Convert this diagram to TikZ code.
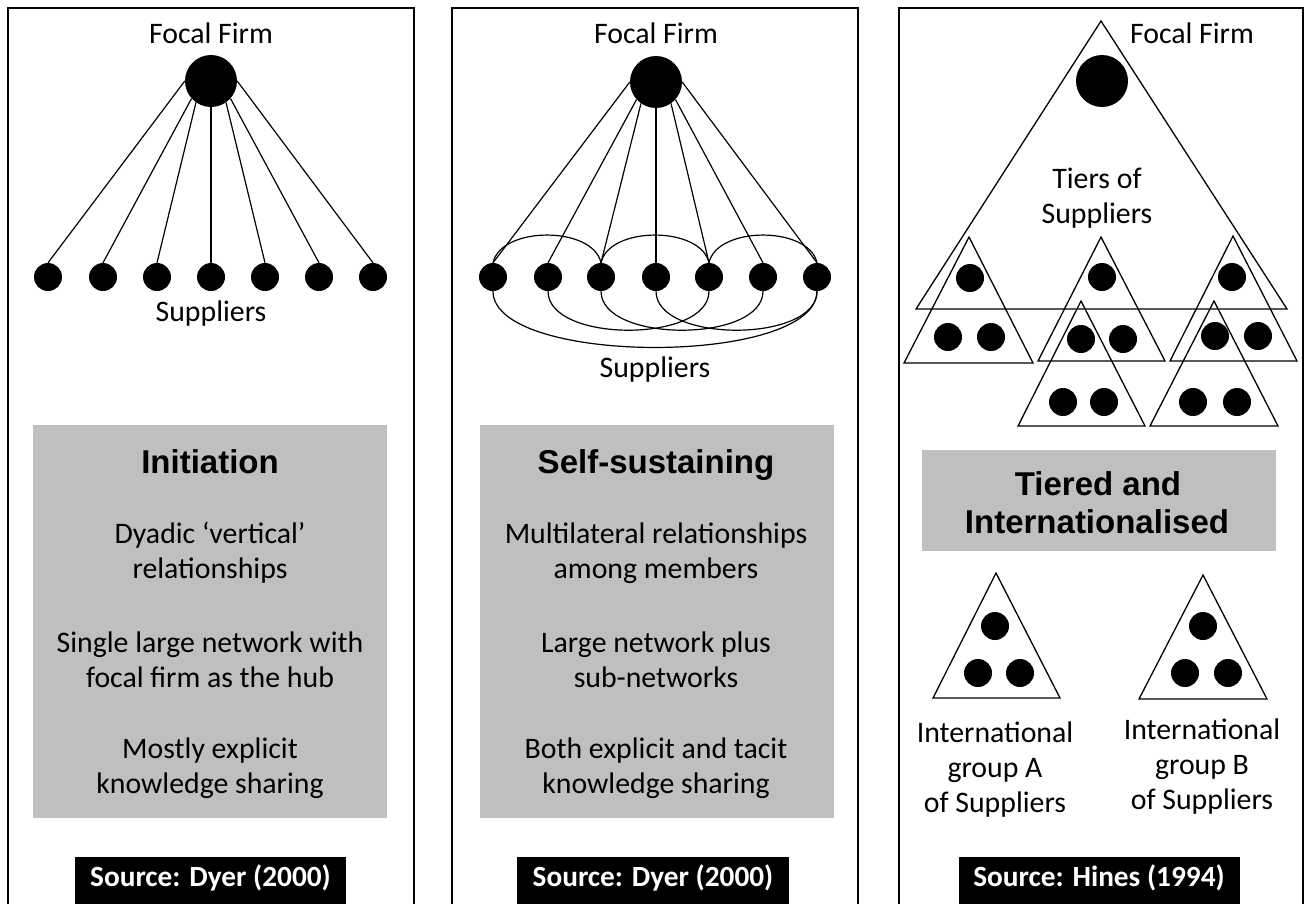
\documentclass[tikz,border=0pt]{standalone}
\usepackage{fontspec}
\setmainfont{Carlito}
\newfontfamily\headfont{Liberation Sans}
\definecolor{boxgrey}{RGB}{191,191,191}

\begin{document}
\begin{tikzpicture}[x=1pt,y=-1pt,
  frame/.style={line width=2.6pt},
  hub/.style={circle,fill=black,inner sep=0pt,minimum size=52pt},
  dot/.style={circle,fill=black,inner sep=0pt,minimum size=28pt},
  link/.style={line width=1.2pt},
  tier/.style={line width=1.3pt},
  shade/.style={fill=boxgrey},
  srcbox/.style={fill=black},
  lbl/.style={font=\fontsize{29.8}{35}\selectfont,anchor=base,inner sep=0pt},
  head/.style={font=\headfont\bfseries\fontsize{33}{40}\selectfont,anchor=base,inner sep=0pt},
  src/.style={font=\bfseries\fontsize{29.3}{35}\selectfont,text=white,anchor=base,inner sep=0pt}]
\useasboundingbox (0,0) rectangle (1306,903);

% panel frames (open at the bottom edge)
\draw[frame] (8,910) -- (8,8) -- (414,8) -- (414,910);
\draw[frame] (452,910) -- (452,8) -- (858,8) -- (858,910);
\draw[frame] (899,910) -- (899,8) -- (1303,8) -- (1303,910);

% ---------- Initiation ----------
\node[lbl] (lfocal) at (211,43) {Focal Firm};
\node[hub] (LF) at (211,81) {};
\foreach \i/\x in {1/48,2/103,3/157,4/211,5/265,6/319,7/373}
  \node[dot] (L\i) at (\x,277) {};
\foreach \i/\a in {1/180,2/222,3/235,4/270,5/305,6/318,7/0}
  \draw[link] (LF.\a) -- (L\i.north);
\node[lbl] (lsup) at (211,321) {Suppliers};

\fill[shade] (33,425) rectangle (387,818);
\node[head] (lhead) at (210,473) {Initiation};
\node[lbl] (l1) at (210,543) {Dyadic ‘vertical’};
\node[lbl] (l2) at (210,578) {relationships};
\node[lbl] (l3) at (210,652) {Single large network with};
\node[lbl] (l4) at (210,687) {focal firm as the hub};
\node[lbl] (l5) at (210,758) {Mostly explicit};
\node[lbl] (l6) at (210,793) {knowledge sharing};

\fill[srcbox] (75,857) rectangle (346,910);
\node[src] (lsrc) at (210.5,886) {Source: Dyer (2000)};

% ---------- Self-sustaining ----------
\node[lbl] (mfocal) at (656,43) {Focal Firm};
\node[hub] (MF) at (656,82) {};
\foreach \i/\x in {1/493,2/548,3/601,4/656,5/709,6/763,7/817}
  \node[dot] (M\i) at (\x,277) {};
\foreach \i/\a in {1/180,2/222,3/235,4/270,5/305,6/318,7/0}
  \draw[link] (MF.\a) -- (M\i.north);
% sub-network arcs above the suppliers
\draw[link] (M1.north) .. controls +(8,-37) and +(-8,-37) .. (M3.north);
\draw[link] (M3.north) .. controls +(8,-37) and +(-8,-37) .. (M5.north);
\draw[link] (M5.north) .. controls +(8,-37) and +(-8,-37) .. (M7.north);
% sub-network arcs below the suppliers
\draw[link] (M2.south) .. controls +(0,52) and +(0,52) .. (M5.south);
\draw[link] (M3.south) .. controls +(0,52) and +(0,52) .. (M6.south);
\draw[link] (M4.south) .. controls +(0,52) and +(0,52) .. (M7.south);
\draw[link] (M1.south) .. controls +(0,75) and +(0,75) .. (M7.south);
\node[lbl] (msup) at (655,377) {Suppliers};

\fill[shade] (480,425) rectangle (834,818);
\node[head] (mhead) at (656,473) {Self-sustaining};
\node[lbl] (m1) at (656,543) {Multilateral relationships};
\node[lbl] (m2) at (656,578) {among members};
\node[lbl] (m3) at (656,652) {Large network plus};
\node[lbl] (m4) at (656,687) {sub-networks};
\node[lbl] (m5) at (656,758) {Both explicit and tacit};
\node[lbl] (m6) at (656,793) {knowledge sharing};

\fill[srcbox] (517,857) rectangle (789,910);
\node[src] (msrc) at (653,886) {Source: Dyer (2000)};

% ---------- Tiered and internationalised ----------
\draw[tier] (1101,21) -- (1287,309) -- (916,309) -- cycle;
\node[hub] (RF) at (1102,81) {};
\node[lbl] (rfocal) at (1192,43) {Focal Firm};
\node[lbl] (rtiers) at (1097,188) {Tiers of};
\node[lbl] (rsup) at (1097,223) {Suppliers};

% supplier tiers
\draw[tier] (969,237) -- (1033,363) -- (904,363) -- cycle;
\draw[tier] (1101,237) -- (1165,361) -- (1038,361) -- cycle;
\draw[tier] (1233,236) -- (1297,361) -- (1170,361) -- cycle;
\draw[tier] (1081,301) -- (1145,426) -- (1018,426) -- cycle;
\draw[tier] (1214,301) -- (1278,426) -- (1150,426) -- cycle;
\foreach \p in {(970,278),(948,337),(991,337),
                (1102,277),(1081,339),(1123,339),
                (1232,277),(1215,336),(1258,336),
                (1063,402),(1104,402),(1193,402),(1237,402)}
  \fill \p circle[radius=14];

\fill[shade] (922,450) rectangle (1276,551);
\node[head] (rhead1) at (1098,495) {Tiered and};
\node[head] (rhead2) at (1097,533) {Internationalised};

% international groups
\draw[tier] (996,573) -- (1060,698) -- (933,698) -- cycle;
\draw[tier] (1203,575) -- (1267,699) -- (1139,699) -- cycle;
\foreach \p in {(995,626),(978,673),(1020,673),(1203,626),(1185,673),(1228,673)}
  \fill \p circle[radius=14];

\node[lbl] (ga1) at (995,742) {International};
\node[lbl] (ga2) at (995,777) {group A};
\node[lbl] (ga3) at (995,812) {of Suppliers};
\node[lbl] (gb1) at (1202,739) {International};
\node[lbl] (gb2) at (1202,774) {group B};
\node[lbl] (gb3) at (1202,809) {of Suppliers};

\fill[srcbox] (959,857) rectangle (1240,910);
\node[src] (rsrc) at (1099,886) {Source: Hines (1994)};
\end{tikzpicture}
\end{document}
